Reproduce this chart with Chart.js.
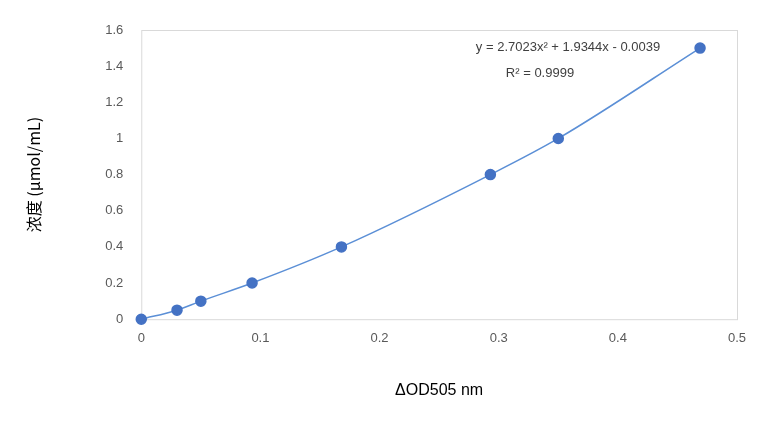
<!DOCTYPE html>
<html>
<head>
<meta charset="utf-8">
<script src="https://cdn.jsdelivr.net/npm/chart.js@4"></script>
<style>
  html, body { margin: 0; padding: 0; background: #fff; }
  #wrap { width: 777px; height: 422px; }
</style>
</head>
<body>
<div id="wrap"><canvas id="chart"></canvas></div>
<script>
const odValues = [0, 0.03, 0.05, 0.093, 0.168, 0.293, 0.35, 0.469];
const concValues = [0, 0.05, 0.1, 0.2, 0.4, 0.8, 1.0, 1.5];
const equationText = 'y = 2.7023x² + 1.9344x - 0.0039';
const r2Text = 'R² = 0.9999';

const points = odValues.map((x, i) => ({ x: x, y: concValues[i] }));

const frame = {
    id: 'frame',
    beforeDatasetsDraw(chart) {
        const a = chart.chartArea;
        const ctx = chart.ctx;
        ctx.save();
        ctx.strokeStyle = '#d9d9d9';
        ctx.lineWidth = 1;
        ctx.strokeRect(a.left + 0.5, a.top + 0.5, a.right - a.left, a.bottom - a.top);
        ctx.restore();
    },
    afterDraw(chart) {
        const ctx = chart.ctx;
        ctx.save();
        ctx.fillStyle = '#404040';
        ctx.font = '13px "Liberation Sans", Arial, sans-serif';
        ctx.textAlign = 'center';
        ctx.fillText(equationText, 568, 51);
        ctx.fillText(r2Text, 540, 77);
        ctx.restore();
    }
};

new Chart(document.getElementById('chart'), {
    type: 'scatter',
    data: {
        datasets: [{
            data: points,
            showLine: true,
            clip: false,
            cubicInterpolationMode: 'monotone',
            borderColor: '#5b8fd6',
            borderWidth: 1.5,
            backgroundColor: '#4472c4',
            pointRadius: 5,
            pointBorderColor: '#4472c4'
        }]
    },
    options: {
        responsive: true,
        maintainAspectRatio: false,
        animation: false,
        layout: { padding: { top: 30, right: 40, bottom: 18, left: 20 } },
        plugins: { legend: { display: false }, tooltip: { enabled: false } },
        scales: {
            x: {
                min: 0, max: 0.5,
                ticks: { stepSize: 0.1, color: '#595959', font: { size: 13, family: 'Liberation Sans' } },
                grid: { display: false },
                border: { display: false },
                title: { display: true, text: 'ΔOD505 nm', color: '#000', padding: { top: 32 },
                    font: { size: 16, family: 'Liberation Sans' } }
            },
            y: {
                min: 0, max: 1.6,
                ticks: { stepSize: 0.2, color: '#595959', padding: 10,
                    callback: v => String(Math.round(v * 10) / 10),
                    font: { size: 13, family: 'Liberation Sans' } },
                grid: { display: false },
                border: { display: false },
                title: { display: true, text: '浓度 (μmol/mL)', color: '#000', padding: { bottom: 52 },
                    font: { size: 16, family: '"Noto Sans CJK SC", sans-serif' } }
            }
        }
    },
    plugins: [frame]
});
</script>
</body>
</html>
